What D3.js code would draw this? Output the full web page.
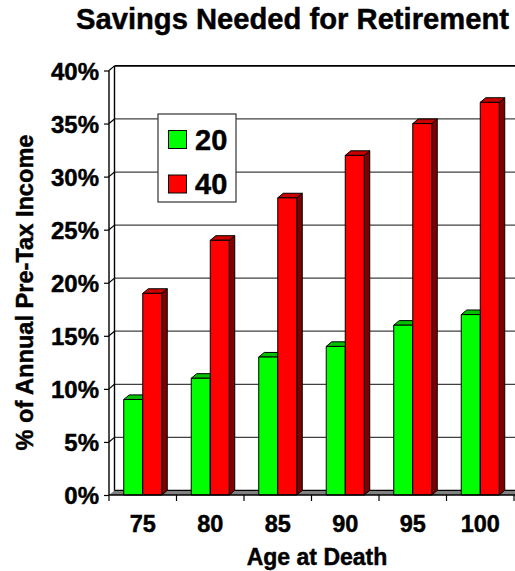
<!DOCTYPE html>
<html>
<head>
<meta charset="utf-8">
<script src="https://cdn.jsdelivr.net/npm/d3@7"></script>
<style>
  html, body { margin: 0; padding: 0; background: #fff; }
  svg { display: block; font-family: "Liberation Sans", Arial, sans-serif; font-weight: bold; }
  svg text { stroke: #000; stroke-width: 0.45px; }
</style>
</head>
<body>
<svg id="chart" width="515" height="571"></svg>
<script>
// Data
const ages = ["75", "80", "85", "90", "95", "100"];
const seriesNames = ["20", "40"];
const values20 = [9, 11, 13, 14, 16, 17];
const values40 = [19, 24, 28, 32, 35, 37];
const yTicks = [0, 5, 10, 15, 20, 25, 30, 35, 40];

const title = "Savings Needed for Retirement";
const xTitle = "Age at Death";
const yTitle = "% of Annual Pre-Tax Income";

const faceColor = { "20": "#00ff00", "40": "#ff0000" };
const topColor  = { "20": "#00c000", "40": "#c80000" };
const sideColor = { "20": "#008000", "40": "#800000" };

const svg = d3.select("#chart");

// 3D depth offset of the plot box
const depthX = 5.5, depthY = 4.6;
const plotLeft = 109, plotBottom = 495, plotTop = 70.5;

const x0 = d3.scaleBand().domain(ages).range([plotLeft, plotLeft + 67.5 * ages.length]).paddingInner(0).paddingOuter(0);
const x1 = d3.scaleBand().domain(seriesNames).range([0, x0.bandwidth()]).paddingInner(0).paddingOuter(0.776);
const y = d3.scaleLinear().domain([0, 40]).range([plotBottom, plotTop]);

const xRight = x0.range()[1];
const g = svg.append("g");

// floor
g.append("path")
  .attr("d", `M${plotLeft},${plotBottom} L${plotLeft + depthX},${plotBottom - depthY} L${xRight + depthX + 20},${plotBottom - depthY} L${xRight + 20},${plotBottom} Z`)
  .attr("fill", "#808080");
g.append("line")
  .attr("x1", plotLeft + depthX).attr("y1", plotBottom - depthY).attr("x2", 530).attr("y2", plotBottom - depthY)
  .attr("stroke", "#000").attr("stroke-width", 1.2);

// gridlines on the back wall and left wall
yTicks.slice(1).forEach(t => {
  const yb = y(t) - depthY;
  g.append("line")
    .attr("x1", plotLeft + depthX).attr("y1", yb).attr("x2", 530).attr("y2", yb)
    .attr("stroke", t === 40 ? "#000" : "#404040").attr("stroke-width", t === 40 ? 1.6 : 1.2);
  g.append("line")
    .attr("x1", plotLeft).attr("y1", y(t)).attr("x2", plotLeft + depthX).attr("y2", yb)
    .attr("stroke", "#000").attr("stroke-width", 1.2);
});

// back wall left edge
g.append("line")
  .attr("x1", plotLeft + depthX).attr("y1", y(40) - depthY).attr("x2", plotLeft + depthX).attr("y2", plotBottom - depthY)
  .attr("stroke", "#000").attr("stroke-width", 1.4);

// bars
const rows = ages.map((a, i) => ({ age: a, vals: [{ s: "20", v: values20[i] }, { s: "40", v: values40[i] }] }));
rows.forEach(r => {
  r.vals.forEach(d => {
    const xl = x0(r.age) + x1(d.s);
    const xr = xl + x1.bandwidth();
    const yt = y(d.v);
    const bg = g.append("g").attr("stroke", "#000").attr("stroke-width", 1).attr("stroke-linejoin", "round");
    // side
    bg.append("path")
      .attr("d", `M${xr},${plotBottom} L${xr},${yt} L${xr + depthX},${yt - depthY} L${xr + depthX},${plotBottom - depthY} Z`)
      .attr("fill", sideColor[d.s]);
    // top
    bg.append("path")
      .attr("d", `M${xl},${yt} L${xl + depthX},${yt - depthY} L${xr + depthX},${yt - depthY} L${xr},${yt} Z`)
      .attr("fill", topColor[d.s]);
    // front
    bg.append("rect")
      .attr("x", xl).attr("y", yt).attr("width", x1.bandwidth()).attr("height", plotBottom - yt)
      .attr("fill", faceColor[d.s]);
  });
});

// front axes
g.append("line")
  .attr("x1", plotLeft).attr("y1", plotTop).attr("x2", plotLeft).attr("y2", plotBottom)
  .attr("stroke", "#000").attr("stroke-width", 1.4);
g.append("line")
  .attr("x1", plotLeft).attr("y1", plotBottom).attr("x2", 530).attr("y2", plotBottom)
  .attr("stroke", "#000").attr("stroke-width", 1.4);

// y axis ticks and labels
const yAxis = d3.axisLeft(y).tickValues(yTicks).tickSize(5).tickPadding(6).tickFormat(d => d + "%");
const ya = svg.append("g").attr("transform", `translate(${plotLeft},0)`).call(yAxis);
ya.select(".domain").remove();
ya.selectAll(".tick line").attr("stroke", "#000").attr("stroke-width", 1.2);
ya.selectAll(".tick text")
  .attr("font-family", "'Liberation Sans', Arial, sans-serif")
  .attr("font-weight", "bold").attr("font-size", 24).attr("fill", "#000")
  .attr("x", -10).attr("dy", "0.36em");

// x axis ticks at category boundaries
const boundaries = ages.map(a => x0(a)).concat([xRight]);
svg.append("g").selectAll("line").data(boundaries).join("line")
  .attr("x1", d => d).attr("x2", d => d).attr("y1", plotBottom).attr("y2", plotBottom + 6)
  .attr("stroke", "#000").attr("stroke-width", 1.2);
svg.append("g").selectAll("text").data(ages).join("text")
  .attr("x", d => x0(d) + x0.bandwidth() / 2).attr("y", 532)
  .attr("text-anchor", "middle").attr("font-size", 23.5).attr("fill", "#000")
  .text(d => d);

// legend
const lg = svg.append("g");
lg.append("rect").attr("x", 158).attr("y", 114).attr("width", 78).attr("height", 88)
  .attr("fill", "#fff").attr("stroke", "#333").attr("stroke-width", 1.2);
seriesNames.forEach((s, i) => {
  const cy = 139.5 + i * 44.5;
  lg.append("rect").attr("x", 168.5).attr("y", cy - 9).attr("width", 18).attr("height", 18)
    .attr("fill", faceColor[s]).attr("stroke", "#000").attr("stroke-width", 1);
  lg.append("text").attr("x", 195).attr("y", cy).attr("dy", "0.36em")
    .attr("font-size", 29).attr("fill", "#000").text(s);
});

// titles
svg.append("text").attr("x", 292.5).attr("y", 29).attr("text-anchor", "middle")
  .attr("font-size", 29.2).attr("fill", "#000").text(title);
svg.append("text").attr("x", 317).attr("y", 565).attr("text-anchor", "middle")
  .attr("font-size", 23).attr("fill", "#000").text(xTitle);
svg.append("text").attr("transform", "translate(33,292.5) rotate(-90)")
  .attr("text-anchor", "middle").attr("font-size", 23.6).attr("fill", "#000").text(yTitle);
</script>
</body>
</html>
